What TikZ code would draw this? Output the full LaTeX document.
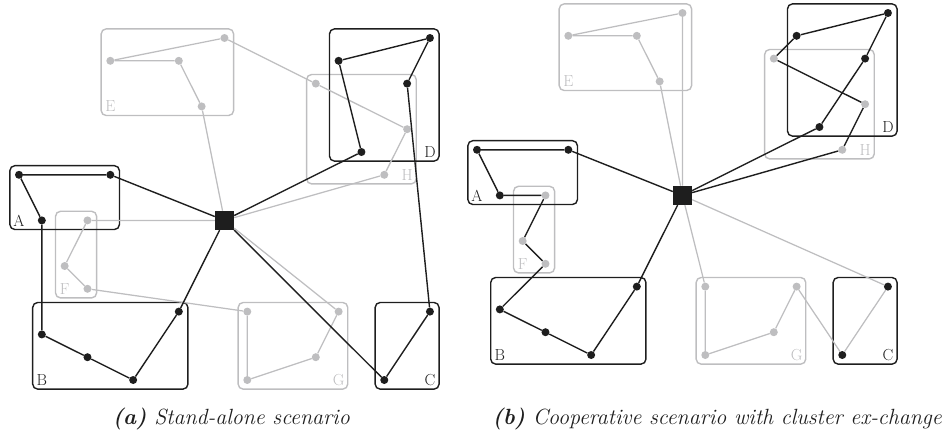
\documentclass[tikz,border=0pt]{standalone}
\usetikzlibrary{calc}
\definecolor{ink}{RGB}{30,30,30}
\definecolor{lgray}{RGB}{190,190,192}
\tikzset{
  bk/.style={draw=ink, line width=1.4pt},
  gr/.style={draw=lgray, line width=1.25pt},
  bdot/.style={circle, fill=ink, inner sep=0pt, minimum size=8pt},
  gdot/.style={circle, fill=lgray, inner sep=0pt, minimum size=8pt},
  bframe/.style={draw=ink, line width=1.4pt, rounded corners=5pt},
  gframe/.style={draw=lgray, line width=1.4pt, rounded corners=5pt},
  hubsq/.style={rectangle, fill=ink, minimum size=19pt, inner sep=0pt},
  blab/.style={text=ink, font=\fontsize{16}{16}\selectfont, inner sep=0pt},
  glab/.style={text=lgray, font=\fontsize{16}{16}\selectfont, inner sep=0pt},
  capt/.style={text=ink, font=\fontsize{22}{26}\selectfont\itshape, inner sep=0pt, anchor=base east}
}
\newcommand\mypanel[1]{%
  % frames
  \draw[gframe] (3.6,-0.4) rectangle (9.4,3.4);
  \draw[gframe] (1.6,7.6) rectangle (3.4,11.4);
  \draw[gframe] (9.6,11.6) rectangle (14.4,15.4);
  \draw[gframe] (12.6,1.6) rectangle (17.4,6.4);
  \draw[bframe] (-0.4,5.6) rectangle (4.4,8.4);
  \draw[bframe] (0.6,11.6) rectangle (7.4,15.4);
  \draw[bframe] (15.6,11.6) rectangle (18.4,15.4);
  \draw[bframe] (13.6,-0.4) rectangle (18.4,5.4);
  % labels
  \node[blab] (#1LA) at (0,8) {A};
  \node[blab] (#1LB) at (1,15) {B};
  \node[blab] (#1LC) at (18,15) {C};
  \node[blab] (#1LD) at (18,5) {D};
  \node[glab] (#1LE) at (4,3) {E};
  \node[glab] (#1LF) at (2,11) {F};
  \node[glab] (#1LG) at (14,15) {G};
  \node[glab] (#1LH) at (17,6) {H};
  % nodes
  \node[bdot] (#1a1) at (0,6) {};
  \node[bdot] (#1a2) at (4,6) {};
  \node[bdot] (#1a3) at (1,8) {};
  \node[bdot] (#1b1) at (1,13) {};
  \node[bdot] (#1b2) at (3,14) {};
  \node[bdot] (#1b3) at (5,15) {};
  \node[bdot] (#1b4) at (7,12) {};
  \node[bdot] (#1c1) at (16,15) {};
  \node[bdot] (#1c2) at (18,12) {};
  \node[bdot] (#1d1) at (18,0) {};
  \node[bdot] (#1d2) at (14,1) {};
  \node[bdot] (#1d3) at (17,2) {};
  \node[bdot] (#1d4) at (15,5) {};
  \node[gdot] (#1e1) at (9,0) {};
  \node[gdot] (#1e2) at (4,1) {};
  \node[gdot] (#1e3) at (7,1) {};
  \node[gdot] (#1e4) at (8,3) {};
  \node[gdot] (#1f1) at (3,8) {};
  \node[gdot] (#1f2) at (2,10) {};
  \node[gdot] (#1f3) at (3,11) {};
  \node[gdot] (#1g1) at (10,12) {};
  \node[gdot] (#1g2) at (10,15) {};
  \node[gdot] (#1g3) at (13,14) {};
  \node[gdot] (#1g4) at (14,12) {};
  \node[gdot] (#1h1) at (13,2) {};
  \node[gdot] (#1h2) at (17,4) {};
  \node[gdot] (#1h3) at (16,6) {};
  \node[hubsq] (#1hub) at (9,8) {};
}
\begin{document}
\begin{tikzpicture}
\useasboundingbox (0,0) rectangle (943pt,-437pt);
% ---------- panel (a)
\begin{scope}[shift={(19pt,-38pt)}, x=22.83pt, y=-22.8pt]
  \mypanel{L}
  % gray links
  \draw[gr] (Le2) -- (Le1);
  \draw[gr] (Le2) -- (Le3) -- (Le4) -- (Lhub);
  \draw[gr] (Le1) -- (Lh1) -- (Lh2) -- (Lh3) -- (Lhub);
  \draw[gr] (Lhub) -- (Lf1) -- (Lf2) -- (Lf3) -- (Lg1) -- (Lg2) -- (Lg3) -- (Lg4) -- (Lhub);
  % black links
  \draw[bk] (La3) -- (La1) -- (La2) -- (Lhub);
  \draw[bk] (La3) -- (Lb1) -- (Lb2) -- (Lb3) -- (Lb4) -- (Lhub);
  \draw[bk] (Lhub) -- (Lc1) -- (Lc2) -- (Ld3) -- (Ld1) -- (Ld2) -- (Ld4) -- (Lhub);
\end{scope}
% ---------- panel (b)
\begin{scope}[shift={(477pt,-13pt)}, x=22.83pt, y=-22.8pt]
  \mypanel{R}
  % gray links
  \draw[gr] (Re2) -- (Re1) -- (Rhub);
  \draw[gr] (Re2) -- (Re3) -- (Re4) -- (Rhub);
  \draw[gr] (Rhub) -- (Rg1) -- (Rg2) -- (Rg3) -- (Rg4) -- (Rc1) -- (Rc2) -- (Rhub);
  % black links
  \draw[bk] (Rhub) -- (Ra2) -- (Ra1) -- (Ra3) -- (Rf1) -- (Rf2) -- (Rf3) -- (Rb1) -- (Rb2) -- (Rb3) -- (Rb4) -- (Rhub);
  \draw[bk] (Rhub) -- (Rd4) -- (Rd3) -- (Rd1) -- (Rd2) -- (Rh1) -- (Rh2) -- (Rh3) -- (Rhub);
\end{scope}
% captions
\node[capt] (capA) at (350pt,-424pt) {{\bfseries (a)} Stand-alone scenario};
\node[capt] (capB) at (942pt,-424pt) {{\bfseries (b)} Cooperative scenario with cluster ex-change};
\end{tikzpicture}
\end{document}
